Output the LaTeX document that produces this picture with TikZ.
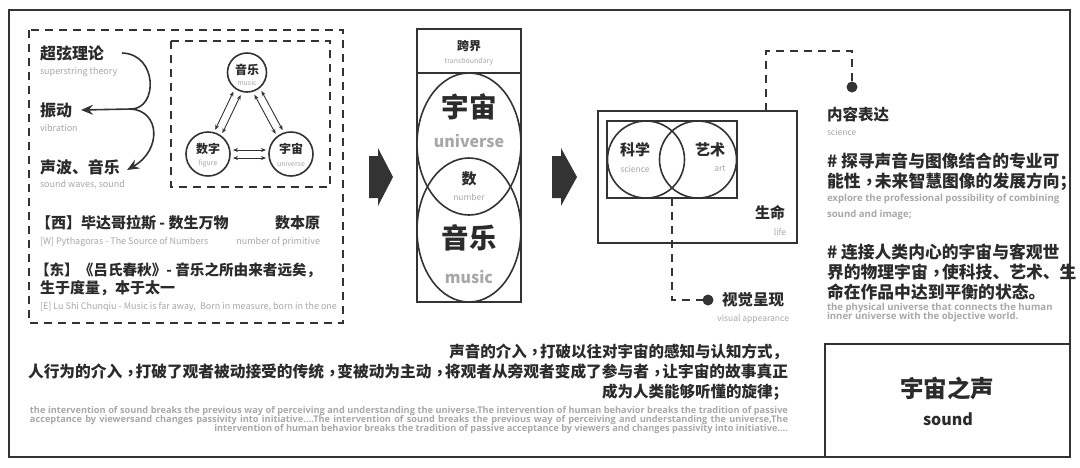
\documentclass[tikz,border=0pt]{standalone}
\usepackage{fontspec}
\newfontfamily\cjk{Noto Sans CJK SC}
\newfontfamily\os{Open Sans}
\usetikzlibrary{calc,arrows.meta}
\definecolor{ink}{HTML}{2B2B2B}
\definecolor{gry}{HTML}{A8A8A8}
\definecolor{lin}{HTML}{333333}
\newcommand\upc{\kern0.35em\raisebox{0.3em}{,}\kern0.15em}
\begin{document}
\begin{tikzpicture}[x=1pt,y=-1pt,
  every node/.style={inner sep=0pt, outer sep=0pt},
  cn/.style={font=\cjk\bfseries\fontsize{#1}{#1}\selectfont, text=ink},
  cn/.default=16,
  en/.style={font=\cjk\fontsize{#1}{#1}\selectfont, text=gry},
  en/.default=9,
  eo/.style={font=\os\bfseries\fontsize{#1}{#1}\selectfont, text=gry},
  eo/.default=9.6,
  boxline/.style={draw=lin, line width=1.6pt},
  dbox/.style={draw=lin, line width=1.8pt, dash pattern=on 8pt off 6pt},
  dline/.style={draw=lin, line width=1.8pt, dash pattern=on 8pt off 6pt},
  dbl/.style={draw=lin, line width=0.9pt, {Stealth[length=5pt,width=4pt]}-{Stealth[length=5pt,width=4pt]}},
  curv/.style={draw=lin, line width=1.6pt, -{Stealth[length=12pt,width=10pt,inset=4pt]}},
  ring/.style={circle, draw=lin, line width=1.6pt},
  dot/.style={circle, fill=lin, minimum size=11pt}
]
\useasboundingbox (0,0) rectangle (1080,467);
\fill[white] (0,0) rectangle (1080,467);
% outer frame
\draw[boxline, line width=2pt] (9,10) rectangle (1070,457);

% ---------- left panel ----------
\draw[dbox] (29,30) rectangle (343,323);
\draw[dbox] (171,41) rectangle (330,187);

\node[cn, anchor=west] (t1) at (40,53) {超弦理论};
\node[en, anchor=west] (e1) at (40,72) {superstring theory};
\node[cn, anchor=west] (t2) at (40,110) {振动};
\node[en, anchor=west] (e2) at (40,128) {vibration};
\node[cn, anchor=west] (t3) at (40,167) {声波、音乐};
\node[en, anchor=west] (e3) at (40,185) {sound waves, sound};

\coordinate (j) at (131,109);
\draw[curv] ([xshift=18pt]t1.east) .. controls (158,54) and (158,109) .. (j) -- ([xshift=9pt]t2.east);
\draw[curv] (j) .. controls (160,111) and (162,150) .. ([xshift=7pt,yshift=-3pt]t3.east);

\node[ring, minimum size=39pt] (cm) at (247,72.5) {};
\node[ring, minimum size=44pt] (cn) at (208,154) {};
\node[ring, minimum size=44pt] (cu) at (291,154) {};
\node[cn=12] (cmt) at (247,70) {音乐};
\node[en=7] (cme) at (247,83) {music};
\node[cn=12] (cnt) at (208,149) {数字};
\node[en=7] (cne) at (208,164) {figure};
\node[cn=12] (cut) at (291,149) {宇宙};
\node[en=7] (cue) at (291,164) {universe};

\draw[dbl] ($(cn)!25pt!(cm)!4pt!90:(cm)$) -- ($(cm)!23pt!(cn)!4pt!-90:(cn)$);
\draw[dbl] ($(cn)!25pt!(cm)!4pt!-90:(cm)$) -- ($(cm)!23pt!(cn)!4pt!90:(cn)$);
\draw[dbl] ($(cu)!25pt!(cm)!4pt!90:(cm)$) -- ($(cm)!23pt!(cu)!4pt!-90:(cu)$);
\draw[dbl] ($(cu)!25pt!(cm)!4pt!-90:(cm)$) -- ($(cm)!23pt!(cu)!4pt!90:(cu)$);
\draw[dbl] ($(cn)!25pt!(cu)!4pt!90:(cu)$) -- ($(cu)!25pt!(cn)!4pt!-90:(cn)$);
\draw[dbl] ($(cn)!25pt!(cu)!4pt!-90:(cu)$) -- ($(cu)!25pt!(cn)!4pt!90:(cn)$);

\node[cn=15, anchor=west] (w1) at (36,223) {【西】毕达哥拉斯 - 数生万物};
\node[cn=15, anchor=east] (w2) at (320,223) {数本原};
\node[en, anchor=west] (we1) at (40,242) {[W] Pythagoras - The Source of Numbers};
\node[en, anchor=east] (we2) at (320,242) {number of primitive};
\node[cn=14.6, anchor=west] (d1) at (35,270) {【东】《吕氏春秋》- 音乐之所由来者远矣，};
\node[cn=15, anchor=west] (d2) at (40,288) {生于度量，本于太一};
\node[en, anchor=west] (de) at (40,307) {[E] Lu Shi Chunqiu - Music is far away,\ \ Born in measure, born in the one};

% ---------- block arrows ----------
\fill[lin] (369,156) -- (378,156) -- (378,148) -- (393,177) -- (378,206) -- (378,198) -- (369,198) -- cycle;
\fill[lin] (552,156) -- (561,156) -- (561,148) -- (577,177) -- (561,206) -- (561,198) -- (552,198) -- cycle;

% ---------- middle column ----------
\node[boxline, minimum width=104pt, minimum height=273pt] (col) at (469,165.5) {};
\draw[boxline] (col.west |- 0,73) -- (col.east |- 0,73);
\node[cn=12] (kj) at (469,46) {跨界};
\node[en=7] (kje) at (469,62) {transboundary};
\draw[lin, line width=1.6pt] (469,144) ellipse [x radius=52, y radius=71];
\draw[lin, line width=1.6pt] (469,230) ellipse [x radius=52, y radius=72];
\node[cn=27.5] (yz) at (469,107) {宇宙};
\node[cn=16, text=gry] (yze) at (469,141) {universe};
\node[cn=15] (sh) at (469,179) {数};
\node[en=8.5] (she) at (469,197) {number};
\node[cn=27.5] (yy) at (469,238) {音乐};
\node[cn=16, text=gry] (yye) at (469,277) {music};

% ---------- right diagram ----------
\node[boxline, minimum width=199pt, minimum height=132pt] (life) at (697.5,177) {};
\node[boxline, minimum width=130pt, minimum height=77pt] (inner) at (672,159.5) {};
\node[ring, minimum size=77pt] (cs) at (646,159.5) {};
\node[ring, minimum size=77pt] (ca) at (698,159.5) {};
\node[cn=15] (kx) at (635,150) {科学};
\node[en=8.5] (kxe) at (635,169) {science};
\node[cn=15] (ys) at (710,150) {艺术};
\node[en=8.5] (yse) at (720,169) {art};
\node[cn=15] (sm) at (770,213) {生命};
\node[en=8.5] (sme) at (780,232) {life};

\node[dot] (dA) at (852,87) {};
\node[dot] (dB) at (708,300) {};
\draw[dline] ([xshift=68.5pt]life.north) -- ++(0,-60) -| (dA.north);
\draw[dline] (inner.south) |- (dB.west);

\node[cn=15.5, anchor=west] (sj) at (722,300) {视觉呈现};
\node[en=8.5, anchor=east] (sje) at (789,319) {visual appearance};
\node[cn=15.5, anchor=west] (nr) at (827,115) {内容表达};
\node[en=8.5, anchor=west] (nre) at (827,132) {science};

\node[cn=16.8, anchor=west] (r1) at (827,161) {\# 探寻声音与图像结合的专业可};
\node[cn=16.8, anchor=west] (r2) at (827,182) {能性\upc 未来智慧图像的发展方向；};
\node[eo, anchor=west] (r3) at (827,199) {explore the professional possibility of combining};
\node[eo, anchor=west] (r4) at (827,215) {sound and image;};
\node[cn=16.8, anchor=west] (r5) at (827,252) {\# 连接人类内心的宇宙与客观世};
\node[cn=16.8, anchor=west] (r6) at (827,272) {界的物理宇宙\upc 使科技、艺术、生};
\node[cn=16.8, anchor=west] (r7) at (827,292) {命在作品中达到平衡的状态。};
\node[eo, anchor=west] (r8) at (827,308) {the physical universe that connects the human};
\node[eo, anchor=west] (r9) at (827,317) {inner universe with the objective world.};

% ---------- bottom right box ----------
\draw[boxline, line width=2pt] (825,457) -- (825,344) -- (1070,344);
\node[cn=23.5] (yzs) at (947,388) {宇宙之声};
\node[cn=16] (snd) at (948,419) {sound};

% ---------- bottom text ----------
\node[cn=15.5, anchor=east] (b1) at (788,352) {声音的介入\upc 打破以往对宇宙的感知与认知方式，};
\node[cn=15.7, anchor=east] (b2) at (788,372) {人行为的介入\upc 打破了观者被动接受的传统\upc 变被动为主动\upc 将观者从旁观者变成了参与者\upc 让宇宙的故事真正};
\node[cn=15.5, anchor=east] (b3) at (788,392) {成为人类能够听懂的旋律；};
\node[eo=9.2, anchor=east] (g1) at (788,411) {\makebox[758pt][s]{the intervention of sound breaks the previous way of perceiving and understanding the universe.The intervention of human behavior breaks the tradition of passive}};
\node[eo=9.2, anchor=east] (g2) at (788,420) {\makebox[758pt][s]{acceptance by viewersand changes passivity into initiative....The intervention of sound breaks the previous way of perceiving and understanding the universe,The}};
\node[eo=9.2, anchor=east] (g3) at (788,429) {intervention of human behavior breaks the tradition of passive acceptance by viewers and changes passivity into initiative....};
\end{tikzpicture}
\end{document}
